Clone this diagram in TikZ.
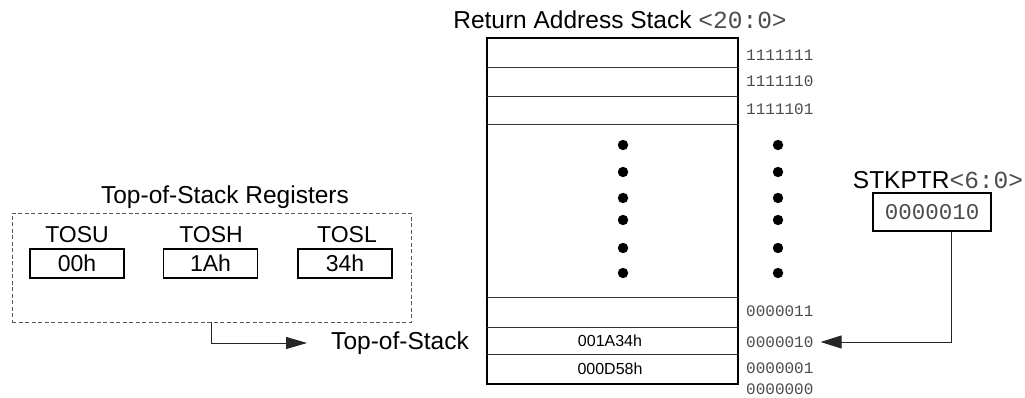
\documentclass[tikz,border=0pt]{standalone}
\usepackage{fontspec}
\setmainfont{Liberation Sans}
\setmonofont{Liberation Mono}
\usetikzlibrary{arrows.meta}

\begin{document}
\begin{tikzpicture}[x=1pt,y=-1pt,
    every node/.style={inner sep=0pt},
    big/.style={font=\fontsize{23}{25}\selectfont},
    huge/.style={font=\fontsize{24.5}{26}\selectfont},
    cell/.style={font=\fontsize{16}{18}\selectfont},
    addr/.style={anchor=west,text=black!70,font=\fontsize{16}{18}\ttfamily\selectfont},
    regbox/.style={draw,line width=1.3pt,minimum width=94pt,minimum height=29pt,big},
    link/.style={black!85,line width=0.9pt}]
    \useasboundingbox (0,0) rectangle (1025,398);
    % return address stack
    \node[huge] (stacktitle) at (620,20) {Return Address Stack {\ttfamily\color{black!70}<20:0>}};
    \node[draw,line width=1.5pt,minimum width=251pt,minimum height=346pt] (stack) at (612.5,211) {};
    \foreach \y in {67,96,124,297,327,354}
        \draw[black!80,line width=0.9pt] (487,\y) -- (738,\y);
    \node[cell] (cell02) at (610,341) {001A34h};
    \node[cell] (cell01) at (610,369) {000D58h};
    \node[addr] (a7f) at (746,55) {1111111};
    \node[addr] (a7e) at (746,81) {1111110};
    \node[addr] (a7d) at (746,109) {1111101};
    \node[addr] (a03) at (746,311) {0000011};
    \node[addr] (a02) at (746,342) {0000010};
    \node[addr] (a01) at (746,368) {0000001};
    \node[addr] (a00) at (746,389.5) {0000000};
    \foreach \y in {145,172,198,220,248,273} {
        \fill (623,\y) circle (5.2pt);
        \fill (778,\y) circle (5.2pt);
    }
    % top-of-stack registers
    \node[huge] (regtitle) at (225,197) {Top-of-Stack Registers};
    \node[draw=black!65,line width=0.9pt,dash pattern=on 4pt off 2.5pt,minimum width=399pt,minimum height=109pt] (tosregs) at (211.5,267.5) {};
    \node[big] (tosulbl) at (77,235) {TOSU};
    \node[big] (toshlbl) at (211,235) {TOSH};
    \node[big] (tosllbl) at (347,235) {TOSL};
    \node[regbox] (tosu) at (77,263.5) {00h};
    \node[regbox] (tosh) at (210.5,263.5) {1Ah};
    \node[regbox] (tosl) at (345,263.5) {34h};
    \node[huge] (tos) at (400,343) {Top-of-Stack};
    \draw[link,-{Triangle[length=21pt,width=12pt]},shorten >=24pt] (tosregs.south) |- (tos.west);
    % stack pointer
    \node[huge] (stkptrtitle) at (938,180) {STKPTR{\ttfamily\color{black!70}<6:0>}};
    \node[regbox,minimum width=118pt,minimum height=38pt,font=\fontsize{22.5}{24}\ttfamily\selectfont,text=black!70] (stkptr) at (932,212) {0000010};
    \draw[link,-{Triangle[length=21pt,width=13pt]}] ([xshift=19pt]stkptr.south) |- ([xshift=7pt]a02.east);
\end{tikzpicture}
\end{document}
